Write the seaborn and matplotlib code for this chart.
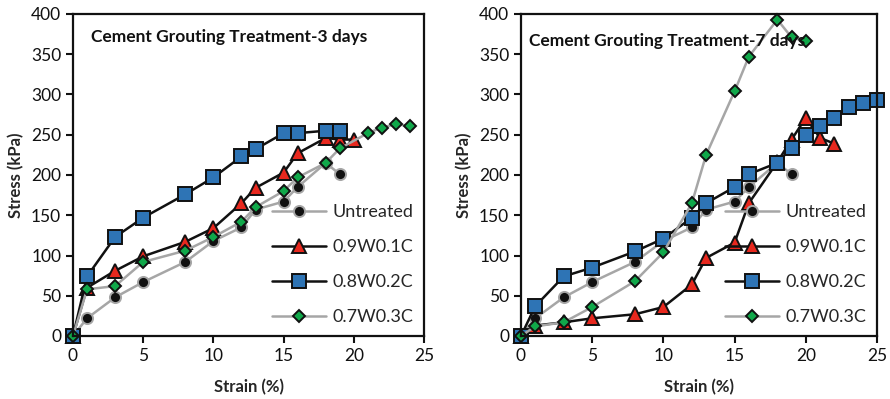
import numpy as np
import pandas as pd
import matplotlib
matplotlib.use('Agg')
import matplotlib.pyplot as plt
import seaborn as sns

sns.set_style('white')
plt.rcParams['font.family'] = ['Lato', 'DejaVu Sans']

# --- datos ---
series_names = ['Untreated', '0.9W0.1C', '0.8W0.2C', '0.7W0.3C']

untreated_strain = [0, 1, 3, 5, 8, 10, 12, 13, 15, 16, 18, 19]
untreated_stress = [0, 22, 48, 67, 92, 118, 135, 157, 167, 185, 215, 201]

# 3 días
d3_w09_strain = [0, 1, 3, 5, 8, 10, 12, 13, 15, 16, 18, 19, 20]
d3_w09_stress = [0, 60, 81, 99, 117, 134, 165, 184, 203, 227, 246, 244, 244]
d3_w08_strain = [0, 1, 3, 5, 8, 10, 12, 13, 15, 16, 18, 19]
d3_w08_stress = [0, 74, 123, 147, 176, 197, 223, 232, 252, 252, 255, 255]
d3_w07_strain = [0, 1, 3, 5, 8, 10, 12, 13, 15, 16, 18, 19, 21, 22, 23, 24]
d3_w07_stress = [0, 58, 62, 92, 106, 123, 142, 160, 180, 197, 215, 233, 252, 259, 263, 261]

# 7 días
d7_w09_strain = [0, 1, 3, 5, 8, 10, 12, 13, 15, 16, 18, 19, 20, 21, 22]
d7_w09_stress = [0, 13, 17, 22, 27, 36, 64, 97, 116, 165, 216, 244, 271, 246, 239]
d7_w08_strain = [0, 1, 3, 5, 8, 10, 12, 13, 15, 16, 18, 19, 20, 21, 22, 23, 24, 25]
d7_w08_stress = [0, 37, 74, 85, 105, 121, 147, 165, 185, 201, 215, 234, 250, 261, 271, 284, 289, 293]
d7_w07_strain = [0, 1, 3, 5, 8, 10, 12, 13, 15, 16, 18, 19, 20]
d7_w07_stress = [0, 12, 17, 36, 68, 104, 165, 225, 304, 347, 393, 371, 366]

panel_titles = ['Cement Grouting Treatment-3 days', 'Cement Grouting Treatment-7 days']
x_ticks = [0, 5, 10, 15, 20, 25]
y_ticks = [0, 50, 100, 150, 200, 250, 300, 350, 400]

panels = [
    [(untreated_strain, untreated_stress), (d3_w09_strain, d3_w09_stress),
     (d3_w08_strain, d3_w08_stress), (d3_w07_strain, d3_w07_stress)],
    [(untreated_strain, untreated_stress), (d7_w09_strain, d7_w09_stress),
     (d7_w08_strain, d7_w08_stress), (d7_w07_strain, d7_w07_stress)],
]

# estilo de cada serie: (color línea, marcador, relleno, borde, tamaño)
styles = {
    'Untreated': ('#a6a6a6', 'o', '#111111', '#a6a6a6', 8),
    '0.9W0.1C': ('#111111', '^', '#e8281e', '#111111', 9.5),
    '0.8W0.2C': ('#111111', 's', '#2e74b5', '#111111', 9.5),
    '0.7W0.3C': ('#a6a6a6', 'D', '#10a84a', '#111111', 6.5),
}

fig = plt.figure(figsize=(8.9, 3.99), dpi=100)
ax1 = fig.add_axes([73 / 890, 1 - 336 / 399, 351 / 890, 322 / 399])
ax2 = fig.add_axes([521 / 890, 1 - 336 / 399, 356 / 890, 322 / 399])

for ax, data, title, tx, ty in zip([ax1, ax2], panels, panel_titles,
                                   [0.05, 0.022], [0.93, 0.915]):
    for name, (sx, sy) in zip(series_names, data):
        lc, mk, fc, ec, ms = styles[name]
        df = pd.DataFrame({'strain': sx, 'stress': sy})
        sns.lineplot(data=df, x='strain', y='stress', ax=ax, color=lc,
                     linewidth=1.8, marker=mk, markersize=ms,
                     markerfacecolor=fc, markeredgecolor=ec,
                     markeredgewidth=1.4, label=name, sort=False,
                     estimator=None, errorbar=None, clip_on=False)
    ax.set_xlim(0, 25)
    ax.set_ylim(0, 400)
    ax.set_xticks(x_ticks)
    ax.set_yticks(y_ticks)
    ax.tick_params(axis='both', direction='out', length=5, width=1.5,
                   labelsize=12.5, colors='#111111', left=True, bottom=True)
    for sp in ax.spines.values():
        sp.set_color('#111111')
        sp.set_linewidth(1.6)
    ax.set_xlabel('Strain (%)', fontsize=12, fontweight='bold', labelpad=11)
    ax.set_ylabel('Stress (kPa)', fontsize=12, fontweight='bold', labelpad=5)
    ax.text(tx, ty, title, transform=ax.transAxes, fontsize=12.5,
            fontweight='bold', va='center', ha='left', color='#111111')
    ax.legend(loc='lower right', frameon=False, fontsize=13, handlelength=3.0,
              labelspacing=1.05, handletextpad=0.35, borderaxespad=0.2,
              bbox_to_anchor=(1.0, 0.0))

plt.savefig('out.png', dpi=100)
